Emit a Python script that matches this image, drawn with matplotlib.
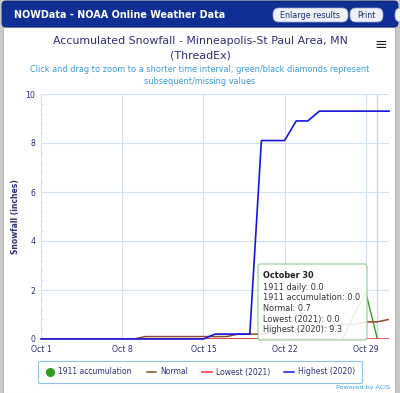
import matplotlib
matplotlib.use("Agg")
import matplotlib.pyplot as plt
from matplotlib.patches import FancyBboxPatch, Rectangle
from matplotlib.lines import Line2D
import numpy as np

# data, October daily accumulated snowfall (inches)
days = list(range(1, 32))
normal = [0, 0, 0, 0, 0, 0, 0, 0, 0, 0.1, 0.1, 0.1, 0.1, 0.1, 0.1, 0.1, 0.1,
          0.2, 0.2, 0.2, 0.3, 0.3, 0.4, 0.4, 0.5, 0.5, 0.6, 0.6, 0.7, 0.7, 0.8]
lowest_2021 = [0.0] * 31
highest_2020 = [0, 0, 0, 0, 0, 0, 0, 0, 0, 0, 0, 0, 0, 0, 0, 0.2, 0.2, 0.2, 0.2,
                8.1, 8.1, 8.1, 8.9, 8.9, 9.3, 9.3, 9.3, 9.3, 9.3, 9.3, 9.3]
acc_1911 = [0, 0, 0, 0, 0, 0, 0, 0, 0, 0, 0, 0, 0, 0, 0, 0, 0, 0, 0, 0, 0, 0,
            0, 0, 0, 0, 0, 1.0, 1.9, 0.0]
tick_days = [1, 8, 15, 22, 29]
tick_labels = ['Oct 1', 'Oct 8', 'Oct 15', 'Oct 22', 'Oct 29']
tip_lines = ['1911 daily: 0.0', '1911 accumulation: 0.0', 'Normal: 0.7',
             'Lowest (2021): 0.0', 'Highest (2020): 9.3']

W, H = 400, 393
navy = '#2e2e78'
lblue = '#3b9ad8'

fig = plt.figure(figsize=(4.0, 3.93), dpi=100, facecolor='#c9c9c9')

def fx(px):
    return px / W

def fy(py):
    return 1 - py / H

# page frame
fig.patches.append(Rectangle((fx(3), 0), fx(392), fy(27), transform=fig.transFigure,
                             facecolor='white', edgecolor='#b8b8b8', lw=0.8, zorder=-5))
fig.patches.append(FancyBboxPatch((fx(2), fy(27)), fx(396), fy(1) - fy(27),
                                  boxstyle='round,pad=0,rounding_size=0.01',
                                  transform=fig.transFigure, facecolor='#0f2f95',
                                  edgecolor='#0a2270', lw=0.6, zorder=1))
fig.text(fx(14), fy(15), 'NOWData - NOAA Online Weather Data', color='white',
         fontsize=6.9, fontweight='bold', va='center', ha='left')
for x0, x1, lab in [(273, 348, 'Enlarge results'), (350, 383, 'Print'), (395, 410, '')]:
    fig.patches.append(FancyBboxPatch((fx(x0), fy(22)), fx(x1 - x0), fy(8) - fy(22),
                                      boxstyle='round,pad=0,rounding_size=0.015',
                                      transform=fig.transFigure, facecolor='#eef2f8',
                                      edgecolor='#9aa8c8', lw=0.5, zorder=2))
    if lab:
        fig.text(fx((x0 + x1) / 2), fy(15), lab, color='#1c3070', fontsize=5.8,
                 ha='center', va='center', zorder=3)

# titles
fig.text(0.5, fy(41), 'Accumulated Snowfall - Minneapolis-St Paul Area, MN',
         color=navy, fontsize=7.9, ha='center', va='center')
fig.text(0.5, fy(55), '(ThreadEx)', color=navy, fontsize=7.9, ha='center', va='center')
fig.text(fx(381), fy(45), '\u2261', color='#222222', fontsize=11, ha='center', va='center')
fig.text(0.5, fy(70), 'Click and drag to zoom to a shorter time interval; '
         'green/black diamonds represent', color=lblue, fontsize=5.9, ha='center', va='center')
fig.text(0.5, fy(81), 'subsequent/missing values', color=lblue, fontsize=5.9,
         ha='center', va='center')

ax = fig.add_axes([fx(41), fy(339), fx(389 - 41), fy(94) - fy(339)])
ax.set_facecolor('white')
ax.set_xlim(1, 31)
ax.set_ylim(0, 10)

ax.plot(days[:len(acc_1911)], acc_1911, color='#3a9a2a', lw=1.0, zorder=3)
ax.plot(days, normal, color='#8b4a2b', lw=1.1, zorder=4)
ax.plot(days, lowest_2021, color='#ee3333', lw=1.1, zorder=5)
ax.plot(days, highest_2020, color='#1515e0', lw=1.2, zorder=6, clip_on=False)
ax.axvline(30, color='#c8d6e4', lw=0.9, zorder=2)

ax.set_xticks(tick_days)
ax.set_xticklabels(tick_labels)
ax.set_yticks(np.arange(0, 11, 2))
ax.set_yticks(np.arange(0, 10.01, 0.4), minor=True)
ax.grid(True, which='major', color='#d4e2ee', lw=0.8)
ax.tick_params(axis='x', length=0, pad=4, labelsize=5.6, labelcolor=navy)
ax.tick_params(axis='y', which='major', length=0, pad=4, labelsize=5.6, labelcolor=navy)
ax.tick_params(axis='y', which='minor', length=1.5, width=0.5, color='#c0c8d8', direction='in')
for s in ['top', 'right', 'bottom']:
    ax.spines[s].set_visible(False)
ax.spines['left'].set_color('#d4e2ee')
ax.spines['left'].set_linewidth(0.8)
ax.set_ylabel('Snowfall (inches)', color=navy, fontsize=5.5, fontweight='bold', labelpad=4)

# tooltip
tip = FancyBboxPatch((fx(258), fy(340)), fx(367 - 258), fy(264) - fy(340),
                     boxstyle='round,pad=0,rounding_size=0.006', transform=fig.transFigure,
                     facecolor='white', alpha=0.88, edgecolor='#98c898', lw=0.9, zorder=10)
fig.patches.append(tip)
fig.text(fx(263), fy(276), 'October 30', fontsize=5.9, fontweight='bold',
         color='#222222', va='center', zorder=11)
for i, t in enumerate(tip_lines):
    fig.text(fx(263), fy(287 + i * 10.7), t, fontsize=5.9, color='#333333',
             va='center', zorder=11)

# legend
handles = [Line2D([], [], marker='o', ls='none', color='#2e9a1e', markersize=5.5),
           Line2D([], [], color='#8b4a2b', lw=1.1),
           Line2D([], [], color='#ee3333', lw=1.1),
           Line2D([], [], color='#1515e0', lw=1.1)]
labels = ['1911 accumulation', 'Normal', 'Lowest (2021)', 'Highest (2020)']
leg = fig.legend(handles, labels, loc='center', bbox_to_anchor=(fx(200), fy(372)),
                 ncol=4, fontsize=5.5, frameon=True, fancybox=True, handlelength=1.3,
                 handletextpad=0.45, columnspacing=1.9, borderpad=0.9, borderaxespad=0,
                 edgecolor='#8fc3e3', labelcolor=navy, framealpha=1)
leg.get_frame().set_linewidth(0.8)

fig.text(fx(390), fy(387), 'Powered by ACIS', color=lblue, fontsize=4.6,
         ha='right', va='center')

fig.savefig('out.png', dpi=100, facecolor=fig.get_facecolor())
